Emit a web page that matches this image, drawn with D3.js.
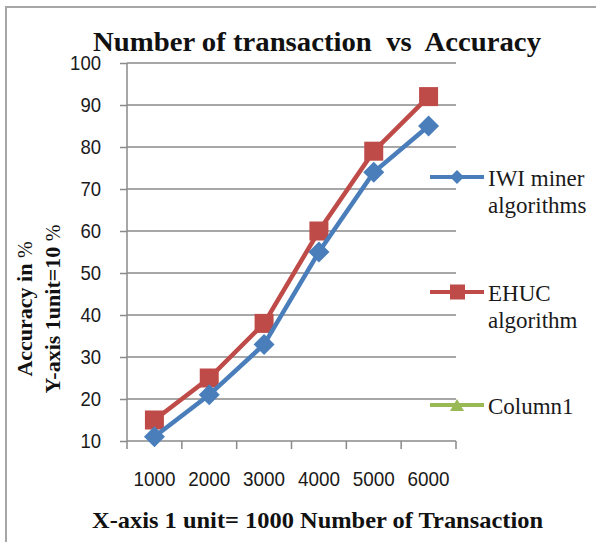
<!DOCTYPE html>
<html><head><meta charset="utf-8">
<script src="https://cdn.jsdelivr.net/npm/d3@7"></script>
<style>body{margin:0;background:#fff}svg{display:block}text{white-space:pre}</style>
</head><body>
<svg id="c" width="596" height="542"></svg>
<script>
const categories = ["1000","2000","3000","4000","5000","6000"];
const iwiMiner = [11, 21, 33, 55, 74, 85];
const ehuc = [15, 25, 38, 60, 79, 92];
const yTicks = [10,20,30,40,50,60,70,80,90,100];
const seriesNames = ["IWI miner algorithms","EHUC algorithm","Column1"];
const title = "Number of transaction  vs  Accuracy";
const xTitle = "X-axis 1 unit= 1000 Number of Transaction";
const yTitle1 = "Accuracy in ";
const yTitle2 = "Y-axis 1unit=10 ";

const svg = d3.select("#c");
const serif = "Liberation Serif, Times New Roman, serif";
const sans = "Liberation Sans, Arial, sans-serif";

// frame
svg.append("rect").attr("x",6).attr("y",7).attr("width",620).attr("height",560)
  .attr("fill","none").attr("stroke","#a6a6a6").attr("stroke-width",2);

const x = d3.scaleBand().domain(categories).range([127,456]);
const y = d3.scaleLinear().domain([10,100]).range([441,63]);

// gridlines
svg.append("g").selectAll("line").data(yTicks).join("line")
  .attr("x1",127).attr("x2",456).attr("y1",d=>y(d)).attr("y2",d=>y(d))
  .attr("stroke","#8a8a8a").attr("stroke-width",1.5);

// y axis
const yAxis = svg.append("g").attr("transform","translate(127,0)")
  .call(d3.axisLeft(y).tickValues(yTicks).tickSize(7).tickPadding(19).tickSizeOuter(0));
yAxis.select(".domain").attr("stroke","#8a8a8a").attr("stroke-width",1.5).attr("d","M0,63V449");
yAxis.selectAll(".tick line").attr("stroke","#8a8a8a").attr("stroke-width",1.5);
yAxis.selectAll("text").attr("font-family",sans).attr("font-size",21).attr("fill","#1a1a1a")
  .attr("textLength",d=>String(d).length*10.3).attr("lengthAdjust","spacingAndGlyphs");

// x axis
const xAxis = svg.append("g").attr("transform","translate(0,441)")
  .call(d3.axisBottom(x).tickSize(0).tickPadding(30).tickSizeOuter(0));
xAxis.select(".domain").remove();
xAxis.selectAll("text").attr("font-family",sans).attr("font-size",21).attr("fill","#1a1a1a")
  .attr("textLength",d=>String(d).length*10.5).attr("lengthAdjust","spacingAndGlyphs");
const bounds = categories.map(c=>x(c)).concat([x(categories[categories.length-1])+x.bandwidth()]);
svg.append("g").selectAll("line").data(bounds.slice(1)).join("line")
  .attr("x1",d=>d).attr("x2",d=>d).attr("y1",441).attr("y2",449)
  .attr("stroke","#8a8a8a").attr("stroke-width",1.5);

const cx = d => x(d) + x.bandwidth()/2;
const line = d3.line().x(d=>cx(d.c)).y(d=>y(d.v));
const blueC = "#4a7ebb", redC = "#be4b48", greenC = "#98b954";

const dBlue = categories.map((c,i)=>({c,v:iwiMiner[i]}));
const dRed = categories.map((c,i)=>({c,v:ehuc[i]}));

svg.append("path").datum(dRed).attr("d",line).attr("fill","none").attr("stroke",redC).attr("stroke-width",4.5);
svg.append("g").selectAll("rect").data(dRed).join("rect")
  .attr("x",d=>cx(d.c)-9.5).attr("y",d=>y(d.v)-9.5).attr("width",19).attr("height",19).attr("fill",redC);

svg.append("path").datum(dBlue).attr("d",line).attr("fill","none").attr("stroke",blueC).attr("stroke-width",4.5);
const diamond = r => `M0,${-r}L${r},0L0,${r}L${-r},0Z`;
svg.append("g").selectAll("path").data(dBlue).join("path")
  .attr("transform",d=>`translate(${cx(d.c)},${y(d.v)})`).attr("d",diamond(10.5)).attr("fill",blueC);

// legend
const leg = [
  {name:seriesNames[0], color:blueC, y:177, lines:["IWI miner","algorithms"], m:"d"},
  {name:seriesNames[1], color:redC, y:292, lines:["EHUC","algorithm"], m:"s"},
  {name:seriesNames[2], color:greenC, y:405, lines:["Column1"], m:"t"}
];
leg.forEach(l=>{
  const g = svg.append("g");
  g.append("line").attr("x1",430).attr("x2",484).attr("y1",l.y).attr("y2",l.y).attr("stroke",l.color).attr("stroke-width",4);
  if(l.m==="d") g.append("path").attr("transform",`translate(457,${l.y})`).attr("d",diamond(7)).attr("fill",l.color);
  if(l.m==="s") g.append("rect").attr("x",450).attr("y",l.y-7.5).attr("width",15).attr("height",15).attr("fill",l.color);
  if(l.m==="t") g.append("path").attr("transform",`translate(457,${l.y})`).attr("d","M0,-6L7,6L-7,6Z").attr("fill",l.color);
  l.lines.forEach((t,i)=>{
    g.append("text").attr("x",488).attr("y",l.y+9+i*27).text(t)
      .attr("font-family",serif).attr("font-size",23).attr("fill","#1a1a1a");
  });
});

// title
svg.append("text").attr("x",93).attr("y",51)
  .attr("font-family",serif).attr("font-weight","bold").attr("font-size",28)
  .attr("textLength",448).attr("lengthAdjust","spacingAndGlyphs").attr("fill","#111").text(title);

// x title
svg.append("text").attr("x",92).attr("y",528)
  .attr("font-family",serif).attr("font-weight","bold").attr("font-size",24)
  .attr("textLength",451).attr("lengthAdjust","spacingAndGlyphs").attr("fill","#111").text(xTitle);

// y title
const yt1 = svg.append("text").attr("transform","translate(32,309) rotate(-90)").attr("text-anchor","middle")
  .attr("font-family",serif).attr("font-weight","bold").attr("font-size",22).attr("fill","#111");
yt1.append("tspan").text(yTitle1);
yt1.append("tspan").attr("font-weight","normal").attr("font-size",20).text("%");
const yt2 = svg.append("text").attr("transform","translate(60,309) rotate(-90)").attr("text-anchor","middle")
  .attr("font-family",serif).attr("font-weight","bold").attr("font-size",22).attr("fill","#111");
yt2.append("tspan").text(yTitle2);
yt2.append("tspan").attr("font-weight","normal").attr("font-size",20).text("%");
</script>
</body></html>
